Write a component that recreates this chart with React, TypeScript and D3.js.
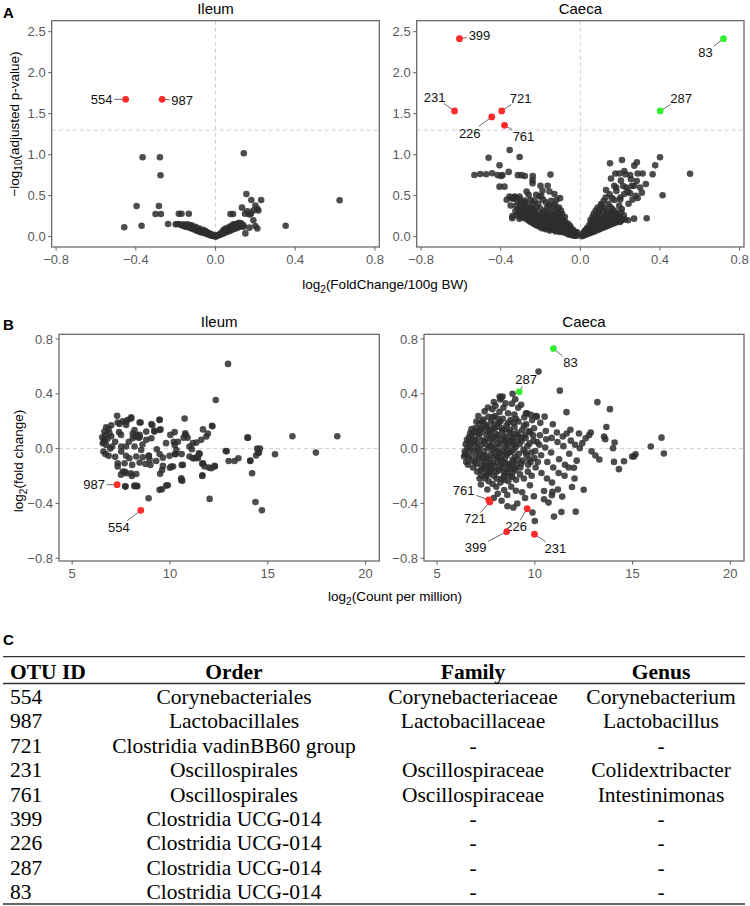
import React from 'react';
import * as d3 from 'd3';

type Pt = [number, number];
type Hit = { id: string; x: number; y: number; dir: 'up' | 'down' };

// ---- A: volcano, [log2 fold change per 100g BW, -log10 adjusted p] ----
const ileumVolcano: Pt[] = [
  [-0.366, 0.968], [-0.279, 0.968], [-0.276, 0.749], [0.142, 1.017], [-0.396, 0.374], [-0.284, 0.374],
  [-0.301, 0.277], [-0.274, 0.277], [-0.458, 0.115], [-0.371, 0.134], [-0.238, 0.155], [-0.19, 0.155],
  [-0.2, 0.15], [-0.184, 0.28], [-0.171, 0.28], [-0.134, 0.28], [0.155, 0.52], [0.18, 0.447], [0.229, 0.447],
  [0.133, 0.354], [0.16, 0.31], [0.148, 0.28], [0.17, 0.27], [0.2, 0.38], [0.21, 0.34], [0.19, 0.32],
  [0.088, 0.277], [0.075, 0.277], [0.352, 0.134], [0.623, 0.444], [0.2, 0.13], [0.17, 0.11], [0.21, 0.1],
  [0.15, 0.04], [0.178, 0.28], [0.215, 0.32], [0.19, 0.2],
  [-0.17, 0.14], [-0.16, 0.13], [-0.15, 0.14], [-0.15, 0.12], [-0.14, 0.12], [-0.13, 0.11], [-0.13, 0.13],
  [-0.12, 0.1], [-0.12, 0.14], [-0.11, 0.09], [-0.11, 0.11], [-0.1, 0.08], [-0.1, 0.1], [-0.09, 0.07],
  [-0.09, 0.09], [-0.08, 0.06], [-0.08, 0.08], [-0.07, 0.05], [-0.07, 0.07], [-0.06, 0.05], [-0.06, 0.06],
  [-0.05, 0.04], [-0.05, 0.05], [-0.04, 0.03], [-0.04, 0.05], [-0.03, 0.02], [-0.03, 0.04], [-0.02, 0.01],
  [-0.02, 0.03], [-0.01, 0.01], [0, 0.0], [0, 0.02], [0.01, 0.01], [0.02, 0.02], [0.02, 0.03], [0.03, 0.03],
  [0.03, 0.05], [0.04, 0.04], [0.04, 0.06], [0.05, 0.05], [0.05, 0.07], [0.06, 0.06], [0.06, 0.08],
  [0.06, 0.1], [0.07, 0.07], [0.07, 0.09], [0.07, 0.12], [0.08, 0.08], [0.08, 0.11], [0.08, 0.13],
  [0.09, 0.09], [0.09, 0.12], [0.09, 0.15], [0.1, 0.1], [0.1, 0.13], [0.11, 0.11], [0.11, 0.14],
  [0.12, 0.12], [0.12, 0.15], [0.13, 0.13], [0.13, 0.16], [0.14, 0.12], [0.14, 0.14],
  [-0.18, 0.15], [-0.16, 0.15], [-0.14, 0.15], [-0.12, 0.13], [-0.1, 0.12], [-0.08, 0.1], [-0.06, 0.08],
  [-0.05, 0.07], [0.04, 0.08], [0.05, 0.1], [0.11, 0.16], [0.12, 0.17], [0.1, 0.15],
];

const caecaVolcano: Pt[] = [
  // upper left scatter
  [-0.461, 0.963], [-0.355, 1.057], [-0.305, 0.972], [-0.406, 0.87], [-0.532, 0.752], [-0.503, 0.765],
  [-0.473, 0.761], [-0.443, 0.773], [-0.391, 0.75], [-0.36, 0.79], [-0.314, 0.75], [-0.296, 0.75],
  [-0.279, 0.74], [-0.239, 0.74], [-0.15, 0.757], [-0.406, 0.61], [-0.381, 0.61], [-0.24, 0.69],
  [-0.24, 0.65], [-0.164, 0.62], [-0.155, 0.55], [-0.356, 0.49], [-0.331, 0.48], [-0.306, 0.49],
  [-0.27, 0.55], [-0.26, 0.51], [-0.222, 0.51], [-0.206, 0.49], [-0.102, 0.47], [-0.341, 0.25],
  [-0.306, 0.22], [-0.286, 0.25], [-0.35, 0.38], [-0.3, 0.37], [-0.415, 0.75], [-0.398, 0.74],
  [-0.37, 0.45], [-0.345, 0.47], [-0.33, 0.49], [-0.2, 0.62], [-0.19, 0.56], [-0.13, 0.52], [-0.12, 0.45],
  [-0.25, 0.45], [-0.28, 0.44],
  // upper right scatter
  [0.149, 0.895], [0.209, 0.935], [0.284, 0.907], [0.271, 0.866], [0.4, 0.968], [0.376, 0.87], [0.551, 0.768],
  [0.413, 0.505], [0.333, 0.224], [0.154, 0.71], [0.176, 0.77], [0.196, 0.77], [0.221, 0.8], [0.226, 0.76],
  [0.25, 0.75], [0.288, 0.77], [0.313, 0.77], [0.363, 0.76], [0.204, 0.683], [0.254, 0.7], [0.329, 0.643],
  [0.309, 0.537], [0.288, 0.472], [0.25, 0.53], [0.129, 0.57], [0.16, 0.47], [0.2, 0.45], [0.23, 0.6],
  [0.22, 0.52], [0.27, 0.62], [0.3, 0.6], [0.18, 0.6], [0.24, 0.2], [0.27, 0.22], [0.2, 0.18], [0.17, 0.62],
  // left arm
  [-0.018, 0.012], [-0.023, 0.034], [-0.016, 0.052], [-0.031, 0.021], [-0.028, 0.063], [-0.034, 0.041],
  [-0.042, 0.024], [-0.037, 0.083], [-0.045, 0.052], [-0.052, 0.031], [-0.048, 0.104], [-0.055, 0.066],
  [-0.051, 0.128], [-0.063, 0.043], [-0.058, 0.117], [-0.066, 0.082], [-0.061, 0.158], [-0.072, 0.047],
  [-0.069, 0.098], [-0.075, 0.176], [-0.073, 0.138], [-0.083, 0.052], [-0.079, 0.121], [-0.086, 0.203],
  [-0.081, 0.087], [-0.078, 0.238], [-0.094, 0.063], [-0.088, 0.151], [-0.092, 0.224], [-0.096, 0.106],
  [-0.091, 0.276], [-0.103, 0.058], [-0.098, 0.124], [-0.106, 0.183], [-0.101, 0.257], [-0.097, 0.318],
  [-0.113, 0.072], [-0.108, 0.142], [-0.115, 0.205], [-0.111, 0.296], [-0.107, 0.355], [-0.124, 0.064],
  [-0.119, 0.103], [-0.126, 0.168], [-0.121, 0.243], [-0.117, 0.338], [-0.133, 0.083], [-0.128, 0.134],
  [-0.136, 0.197], [-0.131, 0.281], [-0.127, 0.396], [-0.143, 0.092], [-0.139, 0.152], [-0.146, 0.228],
  [-0.141, 0.317], [-0.137, 0.372], [-0.154, 0.074], [-0.149, 0.123], [-0.156, 0.184], [-0.151, 0.262],
  [-0.147, 0.437], [-0.163, 0.101], [-0.158, 0.162], [-0.166, 0.218], [-0.161, 0.302], [-0.157, 0.383],
  [-0.174, 0.092], [-0.169, 0.138], [-0.176, 0.204], [-0.171, 0.268], [-0.167, 0.352], [-0.173, 0.418],
  [-0.184, 0.113], [-0.179, 0.171], [-0.186, 0.237], [-0.181, 0.312], [-0.193, 0.104], [-0.188, 0.148],
  [-0.196, 0.222], [-0.191, 0.287], [-0.187, 0.452], [-0.204, 0.122], [-0.199, 0.193], [-0.206, 0.258],
  [-0.201, 0.343], [-0.197, 0.497], [-0.213, 0.134], [-0.209, 0.168], [-0.216, 0.232], [-0.211, 0.403],
  [-0.224, 0.141], [-0.219, 0.212], [-0.226, 0.277], [-0.221, 0.362], [-0.234, 0.158], [-0.229, 0.248],
  [-0.236, 0.321], [-0.231, 0.438], [-0.244, 0.172], [-0.239, 0.224], [-0.246, 0.298], [-0.241, 0.404],
  [-0.254, 0.186], [-0.249, 0.268], [-0.256, 0.347], [-0.263, 0.203], [-0.259, 0.242], [-0.266, 0.318],
  [-0.274, 0.218], [-0.269, 0.297], [-0.276, 0.423], [-0.284, 0.232], [-0.279, 0.284], [-0.286, 0.358],
  [-0.302, 0.243], [-0.297, 0.302], [-0.304, 0.458], [-0.318, 0.262], [-0.323, 0.378], [-0.342, 0.224],
  [-0.337, 0.462],
  [-0.041, 0.036], [-0.057, 0.047], [-0.067, 0.061], [-0.077, 0.068], [-0.087, 0.077], [-0.095, 0.088],
  [-0.105, 0.092], [-0.116, 0.098], [-0.125, 0.113], [-0.135, 0.118], [-0.145, 0.127], [-0.155, 0.141],
  [-0.165, 0.128], [-0.175, 0.153], [-0.185, 0.158], [-0.083, 0.142], [-0.094, 0.168], [-0.112, 0.178],
  [-0.122, 0.214], [-0.142, 0.262], [-0.152, 0.221], [-0.178, 0.246], [-0.194, 0.176], [-0.207, 0.154],
  [-0.062, 0.028], [-0.027, 0.012], [-0.047, 0.022], [-0.035, 0.013],
  [-0.215, 0.188], [-0.228, 0.196], [-0.248, 0.212], [-0.258, 0.228], [-0.272, 0.252], [-0.282, 0.262],
  [-0.295, 0.272], [-0.31, 0.288], [-0.232, 0.288], [-0.252, 0.302], [-0.268, 0.342], [-0.288, 0.322],
  [-0.312, 0.338], [-0.326, 0.312], [-0.203, 0.228], [-0.187, 0.208], [-0.168, 0.186], [-0.148, 0.168],
  [-0.132, 0.162], [-0.118, 0.148], [-0.102, 0.148], [-0.088, 0.118], [-0.071, 0.112], [-0.158, 0.198],
  [-0.178, 0.218], [-0.198, 0.242], [-0.212, 0.268], [-0.226, 0.318], [-0.242, 0.348], [-0.262, 0.378],
  [-0.282, 0.398], [-0.298, 0.412], [-0.316, 0.432],
  // right arm
  [0.008, 0.006], [0.012, 0.031], [0.021, 0.017], [0.018, 0.052], [0.024, 0.078], [0.031, 0.028],
  [0.027, 0.068], [0.034, 0.106], [0.042, 0.037], [0.038, 0.092], [0.044, 0.138], [0.041, 0.061],
  [0.052, 0.048], [0.048, 0.103], [0.054, 0.168], [0.051, 0.204], [0.063, 0.057], [0.058, 0.122],
  [0.065, 0.187], [0.061, 0.238], [0.072, 0.066], [0.068, 0.112], [0.074, 0.158], [0.071, 0.224],
  [0.067, 0.278], [0.083, 0.078], [0.078, 0.133], [0.085, 0.192], [0.081, 0.256], [0.077, 0.318],
  [0.093, 0.088], [0.088, 0.148], [0.095, 0.212], [0.091, 0.293], [0.087, 0.356], [0.102, 0.098],
  [0.098, 0.138], [0.105, 0.183], [0.101, 0.243], [0.097, 0.332], [0.104, 0.398], [0.113, 0.108],
  [0.108, 0.163], [0.115, 0.221], [0.111, 0.302], [0.107, 0.378], [0.123, 0.118], [0.118, 0.172],
  [0.125, 0.258], [0.121, 0.348], [0.117, 0.437], [0.133, 0.128], [0.128, 0.188], [0.135, 0.243],
  [0.131, 0.318], [0.127, 0.478], [0.143, 0.138], [0.138, 0.198], [0.145, 0.282], [0.141, 0.402],
  [0.153, 0.148], [0.148, 0.218], [0.155, 0.298], [0.151, 0.362], [0.147, 0.518], [0.163, 0.157],
  [0.158, 0.208], [0.165, 0.262], [0.161, 0.338], [0.173, 0.168], [0.168, 0.238], [0.175, 0.308],
  [0.171, 0.448], [0.183, 0.178], [0.178, 0.222], [0.185, 0.278], [0.181, 0.558], [0.193, 0.196],
  [0.188, 0.258], [0.195, 0.378], [0.203, 0.197], [0.198, 0.238], [0.205, 0.298], [0.201, 0.478],
  [0.213, 0.206], [0.208, 0.338], [0.215, 0.618], [0.223, 0.212], [0.218, 0.262], [0.242, 0.402],
  [0.238, 0.552], [0.262, 0.452], [0.258, 0.618], [0.278, 0.498], [0.283, 0.678],
  [0.037, 0.048], [0.057, 0.082], [0.066, 0.093], [0.076, 0.098], [0.086, 0.113], [0.096, 0.122],
  [0.106, 0.128], [0.116, 0.142], [0.126, 0.153], [0.136, 0.162], [0.146, 0.172], [0.156, 0.183],
  [0.166, 0.192], [0.176, 0.201], [0.082, 0.172], [0.092, 0.182], [0.112, 0.203], [0.122, 0.222],
  [0.132, 0.268], [0.152, 0.248], [0.172, 0.278], [0.187, 0.232], [0.016, 0.018], [0.026, 0.041],
  [0.046, 0.072],
];

// ---- B: MA plot, [log2 count per million, log2 fold change] ----
const ileumMA: Pt[] = [
  [12.97, 0.618], [12.34, 0.355], [16.26, 0.09], [18.55, 0.09], [17.46, -0.029], [15.37, -0.041],
  [14.5, -0.03], [14.6, 0.0], [14.4, -0.05], [13.99, 0.08], [14.1, -0.09], [14.2, -0.18], [14.37, -0.39],
  [14.7, -0.45], [12.03, -0.367], [12.17, 0.163], [12.9, -0.02], [13.0, -0.09], [13.3, -0.09], [13.5, -0.07],
  [8.91, -0.362], [9.59, -0.296], [9.89, -0.267], [10.58, -0.23], [8.33, -0.275], [8.19, -0.275],
  [7.71, -0.275], [10.02, 0.1], [10.75, 0.219], [10.24, 0.12], [10.8, 0.1], [10.7, 0.08], [11.17, 0.04],
  [11.0, 0.015], [11.35, 0.044], [11.6, 0.064], [11.69, 0.14], [11.86, 0.088], [11.94, 0.11], [12.15, 0.166],
  [10.6, -0.04], [10.25, -0.04], [10.2, 0.05], [11.0, -0.058], [11.17, -0.07], [11.48, -0.034],
  [11.65, -0.11], [11.65, -0.2], [11.35, -0.063], [11.77, -0.13], [12.29, -0.126], [12.0, -0.139],
  [10.6, -0.12], [10.16, -0.13], [10.3, -0.04],
  [6.54, 0.083], [6.65, 0.064], [6.57, 0.039], [6.74, 0.027], [6.6, -0.022], [6.87, -0.053], [6.74, 0.156],
  [6.87, 0.144], [6.65, 0.124], [6.91, 0.112], [6.7, 0.1], [6.8, 0.07], [6.62, 0.05], [6.95, 0.0],
  [6.7, -0.04], [7.0, 0.09], [7.3, 0.239], [7.33, 0.19], [7.59, 0.2], [7.85, 0.21], [8.02, 0.22],
  [7.76, 0.173], [8.19, 0.136], [8.31, 0.1], [8.1, 0.076], [8.45, 0.083], [8.79, 0.064], [9.05, 0.076],
  [9.21, 0.124], [9.47, 0.136], [9.05, 0.18], [9.47, 0.21], [8.5, 0.19], [8.79, 0.124], [7.05, 0.015],
  [7.51, 0.015], [7.76, 0.015], [8.19, 0.015], [8.53, -0.01], [9.33, -0.005], [7.51, -0.022],
  [7.76, -0.053], [7.93, -0.07], [8.28, -0.058], [8.61, -0.063], [8.92, -0.053], [9.47, -0.039],
  [9.64, -0.066], [9.98, -0.053], [10.24, 0.027], [10.33, -0.01], [7.42, 0.18], [7.76, 0.197],
  [8.02, 0.229], [8.45, 0.19], [9.1, 0.17], [9.2, 0.13], [8.1, 0.11], [8.45, 0.1], [8.2, 0.09], [8.4, 0.08],
  [7.7, -0.17], [7.5, -0.19], [8.0, -0.18], [8.05, -0.2], [12.12, -0.143], [12.29, -0.131],
  [11.66, -0.194], [11.69, -0.107], [11.43, -0.07], [11.52, -0.039], [11.26, -0.07], [11.12, -0.005],
  [10.41, 0.05], [10.78, 0.112], [10.9, 0.08], [13.96, 0.08], [12.85, -0.017], [14.11, -0.087],
  [14.45, 0.0], [14.55, -0.03], [10.58, -0.216], [10.66, -0.119], [10.07, -0.13], [10.0, -0.14],
  [9.6, -0.156], [9.5, -0.184], [9.64, -0.126], [9.47, 0.21], [9.52, 0.14], [8.92, -0.053],
  [8.96, -0.082], [8.75, -0.112], [8.45, -0.102], [8.07, -0.119], [7.68, -0.107], [7.33, -0.107],
  [7.33, -0.131], [7.59, -0.168], [7.76, -0.18], [8.28, -0.185], [8.19, -0.27], [8.31, -0.272],
  [7.73, -0.277], [9.47, -0.301], [9.81, -0.27], [10.63, -0.234], [9.0, -0.12], [9.3, -0.09],
  [7.2, 0.05], [7.4, 0.12], [7.9, 0.05], [8.6, 0.03], [9.8, 0.04], [7.2, -0.06], [7.0, 0.17], [7.5, 0.1],
];

const caecaMA: Pt[] = [
  // outer scatter
  [10.19, 0.562], [11.28, 0.423], [8.86, 0.4], [8.27, 0.37], [8.35, 0.38], [13.2, 0.339], [13.84, 0.288],
  [11.62, 0.266], [13.66, 0.158], [12.86, 0.117], [12.77, 0.098], [13.54, 0.088], [13.6, 0.069],
  [14.08, 0.044], [14.0, 0.003], [14.05, -0.097], [14.3, -0.15], [14.56, -0.092], [14.98, -0.058],
  [15.15, -0.041], [15.07, -0.058], [15.93, 0.015], [16.48, 0.08], [16.6, -0.036], [12.5, -0.3],
  [12.09, -0.46], [11.36, -0.462], [10.98, -0.496], [10.0, -0.528], [9.88, -0.467], [10.7, -0.394],
  [10.47, -0.37], [10.87, -0.34], [10.9, -0.316], [10.47, -0.309], [11.63, 0.11], [12.26, 0.11],
  [12.43, 0.04], [12.6, 0.076], [12.3, 0.003], [10.5, 0.233], [10.1, 0.233], [9.8, 0.246], [9.6, 0.258],
  [8.2, 0.38], [8.5, 0.33], [9.0, 0.36], [9.3, 0.32], [7.6, 0.3], [7.9, 0.34], [12.9, -0.02], [13.1, -0.05],
  [13.3, -0.08], [12.0, -0.14], [11.9, -0.28], [11.4, -0.35], [9.1, -0.4], [8.9, -0.43], [8.3, -0.38],
  [8.6, -0.42], [9.5, -0.36], [7.9, -0.36], [8.1, -0.33],
  // main cloud
  [6.42, -0.02], [6.46, 0.032], [6.38, -0.058], [6.53, 0.064], [6.49, -0.098], [6.55, 0.004], [6.44, -0.041],
  [6.63, 0.083], [6.58, -0.118], [6.66, 0.021], [6.61, -0.072], [6.69, 0.112],
  [6.77, 0.097], [6.84, -0.138], [6.73, 0.043], [6.88, -0.018], [6.81, -0.088], [6.76, 0.142],
  [6.97, 0.152], [7.05, -0.168], [6.93, 0.062], [7.08, 0.004], [6.99, -0.058], [7.03, -0.112], [7.01, 0.198],
  [7.16, 0.183], [7.26, -0.196], [7.13, 0.088], [7.22, 0.023], [7.18, -0.042], [7.29, -0.128], [7.11, 0.238],
  [7.24, -0.262], [7.37, 0.212], [7.45, -0.218], [7.33, 0.118], [7.42, 0.052], [7.38, -0.018], [7.47, -0.092],
  [7.35, -0.148], [7.43, 0.272], [7.56, 0.163], [7.64, -0.238], [7.53, 0.078], [7.62, 0.003], [7.58, -0.068],
  [7.66, -0.122], [7.55, -0.182], [7.63, 0.232], [7.57, -0.298], [7.76, 0.198], [7.84, -0.258], [7.73, 0.108],
  [7.82, 0.038], [7.78, -0.038], [7.86, -0.102], [7.75, -0.168], [7.83, 0.288], [7.79, 0.143],
  [7.96, 0.238], [8.04, -0.218], [7.93, 0.148], [8.02, 0.072], [7.98, 0.002], [8.06, -0.062], [7.95, -0.128],
  [8.03, -0.278], [7.99, 0.312], [8.16, 0.188], [8.24, -0.248], [8.13, 0.098], [8.22, 0.028], [8.18, -0.032],
  [8.26, -0.088], [8.15, -0.158], [8.23, 0.358], [8.19, 0.268], [8.36, 0.218], [8.44, -0.198], [8.33, 0.128],
  [8.42, 0.058], [8.38, -0.012], [8.46, -0.072], [8.35, -0.138], [8.43, -0.302], [8.39, 0.298],
  [8.56, 0.168], [8.64, -0.238], [8.53, 0.088], [8.62, 0.018], [8.58, -0.048], [8.66, -0.112], [8.55, -0.178],
  [8.63, 0.258], [8.59, -0.338], [8.76, 0.208], [8.84, -0.208], [8.73, 0.118], [8.82, 0.048], [8.78, -0.022],
  [8.86, -0.082], [8.75, -0.148], [8.83, 0.328], [8.79, -0.278], [8.96, 0.158], [9.04, -0.228], [8.93, 0.078],
  [9.02, 0.012], [8.98, -0.058], [9.06, -0.118], [8.95, 0.248], [9.03, -0.308], [9.16, 0.198], [9.24, -0.188],
  [9.13, 0.098], [9.22, 0.032], [9.18, -0.038], [9.26, -0.138], [9.15, 0.298], [9.36, 0.138], [9.44, -0.218],
  [9.33, 0.058], [9.42, -0.008], [9.38, -0.088], [9.46, 0.228], [9.35, -0.318], [9.56, 0.178], [9.64, -0.168],
  [9.53, 0.078], [9.62, 0.018], [9.58, -0.048], [9.66, -0.118], [9.55, 0.258], [9.76, 0.118], [9.84, -0.198],
  [9.73, 0.038], [9.82, -0.028], [9.78, -0.098], [9.86, 0.208], [9.75, -0.268], [9.96, 0.148], [10.04, -0.138],
  [9.93, 0.058], [10.02, -0.018], [9.98, -0.068], [10.06, 0.238], [9.95, -0.348], [10.26, 0.098],
  [10.34, -0.178], [10.23, 0.028], [10.32, -0.048], [10.28, 0.188], [10.56, 0.128], [10.64, -0.098],
  [10.53, 0.008], [10.62, -0.218], [10.58, 0.068], [10.86, 0.078], [10.94, -0.138], [10.83, -0.028],
  [10.92, 0.178], [10.88, -0.248], [11.16, 0.048], [11.24, -0.078], [11.13, 0.118], [11.22, -0.178],
  [11.18, -0.298], [11.46, 0.018], [11.54, -0.118], [11.43, 0.088], [11.52, -0.198], [11.76, -0.038],
  [11.84, 0.058], [11.73, -0.138], [11.82, 0.138], [12.06, 0.028], [12.14, -0.088], [12.03, -0.218],
  // dense core
  [6.91, 0.028], [7.09, -0.018], [7.31, 0.058], [7.49, -0.048], [7.71, 0.018], [7.89, -0.008], [8.11, 0.038],
  [8.29, -0.052], [8.51, 0.012], [8.69, -0.028], [8.91, 0.032], [7.11, 0.108], [7.51, 0.158], [7.91, 0.178],
  [8.31, 0.148], [8.71, 0.138], [7.31, -0.088], [7.69, -0.118], [8.09, -0.098], [8.49, -0.108], [8.89, -0.098],
  [7.49, -0.198], [8.31, -0.218], [9.11, 0.118], [7.21, 0.138], [7.61, 0.118], [8.01, 0.108], [8.41, 0.088],
  [8.81, 0.078], [7.41, -0.128], [7.81, -0.148], [8.21, -0.128], [8.61, -0.148], [9.01, -0.158], [7.71, 0.068],
  [8.11, -0.068], [8.51, 0.048], [8.91, -0.008], [7.01, 0.048], [6.71, -0.008], [6.61, 0.048], [6.81, 0.068],
  [7.91, -0.198], [8.71, -0.198], [7.31, 0.198], [8.11, 0.218], [8.91, 0.188], [7.61, -0.148], [8.41, -0.168],
  [7.14, -0.072], [7.27, 0.148], [7.36, -0.058], [7.48, 0.032], [7.52, -0.138], [7.68, 0.128], [7.72, -0.082],
  [7.87, 0.082], [7.92, -0.052], [8.07, 0.158], [8.13, -0.018], [8.27, 0.068], [8.33, -0.098], [8.47, 0.138],
  [8.52, -0.032], [8.67, 0.058], [8.72, -0.122], [8.87, 0.108], [8.94, -0.142], [9.07, 0.048], [9.12, -0.078],
  [9.27, 0.078], [9.31, -0.108], [9.47, 0.098], [9.52, -0.028], [7.04, 0.128], [7.44, 0.178], [7.84, 0.228],
  [8.24, 0.198], [8.64, 0.188], [9.04, 0.218], [7.24, -0.158], [7.64, -0.188], [8.04, -0.168], [8.44, -0.228],
  [8.84, -0.178], [6.86, 0.118], [6.67, -0.048], [6.94, -0.098], [7.17, -0.218], [9.44, 0.168], [9.68, 0.128],
  [9.71, -0.078], [9.91, 0.098], [10.12, 0.048], [10.15, -0.098],
];

// highlighted OTUs (red = down, green = up)
const ileumVolcanoHits: Hit[] = [
  { id: '554', x: -0.451, y: 1.675, dir: 'down' },
  { id: '987', x: -0.268, y: 1.675, dir: 'down' },
];
const caecaVolcanoHits: Hit[] = [
  { id: '399', x: -0.607, y: 2.415, dir: 'down' },
  { id: '231', x: -0.632, y: 1.533, dir: 'down' },
  { id: '721', x: -0.395, y: 1.533, dir: 'down' },
  { id: '226', x: -0.445, y: 1.46, dir: 'down' },
  { id: '761', x: -0.381, y: 1.358, dir: 'down' },
  { id: '287', x: 0.401, y: 1.533, dir: 'up' },
  { id: '83', x: 0.719, y: 2.415, dir: 'up' },
];
const ileumMAHits: Hit[] = [
  { id: '987', x: 7.3, y: -0.263, dir: 'down' },
  { id: '554', x: 8.51, y: -0.45, dir: 'down' },
];
const caecaMAHits: Hit[] = [
  { id: '83', x: 10.95, y: 0.73, dir: 'up' },
  { id: '287', x: 9.2, y: 0.414, dir: 'up' },
  { id: '761', x: 7.64, y: -0.374, dir: 'down' },
  { id: '721', x: 7.7, y: -0.389, dir: 'down' },
  { id: '226', x: 9.61, y: -0.438, dir: 'down' },
  { id: '399', x: 8.56, y: -0.606, dir: 'down' },
  { id: '231', x: 9.98, y: -0.625, dir: 'down' },
];

const volcanoXTicks = [-0.8, -0.4, 0.0, 0.4, 0.8];
const volcanoYTicks = [0.0, 0.5, 1.0, 1.5, 2.0, 2.5];
const maXTicks = [5, 10, 15, 20];
const maYTicks = [-0.8, -0.4, 0.0, 0.4, 0.8];

// ---- C: taxonomy table ----
const tableHeader = ['OTU ID', 'Order', 'Family', 'Genus'];
const otuIds = ['554', '987', '721', '231', '761', '399', '226', '287', '83'];
const orders = [
  'Corynebacteriales', 'Lactobacillales', 'Clostridia vadinBB60 group', 'Oscillospirales',
  'Oscillospirales', 'Clostridia UCG-014', 'Clostridia UCG-014', 'Clostridia UCG-014', 'Clostridia UCG-014',
];
const families = ['Corynebacteriaceae', 'Lactobacillaceae', '-', 'Oscillospiraceae', 'Oscillospiraceae', '-', '-', '-', '-'];
const genera = ['Corynebacterium', 'Lactobacillus', '-', 'Colidextribacter', 'Intestinimonas', '-', '-', '-', '-'];

const SANS = '"Liberation Sans", Arial, sans-serif';
const SERIF = '"Liberation Serif", "Times New Roman", serif';
const TICK_GREY = '#5a5a5a';

type Box = { left: number; right: number; top: number; bottom: number };

interface PanelProps {
  box: Box;
  title: string;
  xDomain: [number, number];
  yDomain: [number, number];
  xTicks: number[];
  yTicks: number[];
  fmt: (v: number) => string;
  points: Pt[];
  hits: Hit[];
  nudges: Record<string, [number, number]>;
  vline?: number;
  hline?: number;
}

function Panel({ box, title, xDomain, yDomain, xTicks, yTicks, fmt, points, hits, nudges, vline, hline }: PanelProps) {
  const x = d3.scaleLinear().domain(xDomain).range([box.left, box.right]);
  const y = d3.scaleLinear().domain(yDomain).range([box.bottom, box.top]);
  const yFmt = d3.format('.1f');
  const cx = (box.left + box.right) / 2;

  return (
    <g fontFamily={SANS}>
      <text x={cx} y={box.top - 7} textAnchor="middle" fontSize={15} fill="#000">{title}</text>
      {vline !== undefined && (
        <line x1={x(vline)} x2={x(vline)} y1={box.top} y2={box.bottom} stroke="#cfcfcf" strokeDasharray="4,3" />
      )}
      {hline !== undefined && (
        <line x1={box.left} x2={box.right} y1={y(hline)} y2={y(hline)} stroke="#cfcfcf" strokeDasharray="4,3" />
      )}
      {points.map((d, i) => (
        <circle key={i} cx={x(d[0])} cy={y(d[1])} r={3.3} fill="#2e2e2e" fillOpacity={0.85} />
      ))}
      {hits.map((h) => {
        const px = x(h.x);
        const py = y(h.y);
        const [dx, dy] = nudges[h.id];
        const lx = px + dx;
        const ly = py + dy;
        // clip the leader line at the label's box
        const hw = h.id.length * 3.7 + 1.5;
        const hh = 6.5;
        const s = Math.min(dx !== 0 ? hw / Math.abs(dx) : Infinity, dy !== 0 ? hh / Math.abs(dy) : Infinity);
        const ex = lx - dx * s;
        const ey = ly - dy * s;
        return (
          <g key={h.id}>
            {s < 1 && <line x1={px} y1={py} x2={ex} y2={ey} stroke="#444" strokeWidth={0.8} />}
            <circle cx={px} cy={py} r={3.4} fill={h.dir === 'up' ? '#33ee33' : '#ff2a2a'} />
            <text x={lx} y={ly} dy="0.35em" textAnchor="middle" fontSize={13} fill="#111">{h.id}</text>
          </g>
        );
      })}
      <rect x={box.left} y={box.top} width={box.right - box.left} height={box.bottom - box.top}
        fill="none" stroke="#5f5f5f" strokeWidth={1.2} />
      {xTicks.map((t) => (
        <g key={`x${t}`}>
          <line x1={x(t)} x2={x(t)} y1={box.bottom} y2={box.bottom + 3.5} stroke="#5f5f5f" />
          <text x={x(t)} y={box.bottom + 16.5} textAnchor="middle" fontSize={13} fill={TICK_GREY}>{fmt(t)}</text>
        </g>
      ))}
      {yTicks.map((t) => (
        <g key={`y${t}`}>
          <line x1={box.left - 3.5} x2={box.left} y1={y(t)} y2={y(t)} stroke="#5f5f5f" />
          <text x={box.left - 6} y={y(t)} dy="0.35em" textAnchor="end" fontSize={13} fill={TICK_GREY}>{yFmt(t)}</text>
        </g>
      ))}
    </g>
  );
}

const volcanoNudges: Record<string, [number, number]> = {
  '554': [-24, 0], '987': [20, 1], '399': [20, -3], '83': [-18, 14], '231': [-20, -14],
  '721': [19, -13], '226': [-22, 16], '761': [19, 11], '287': [21, -13],
};
const ileumMANudges: Record<string, [number, number]> = { '987': [-23, 0], '554': [-22, 17] };
const caecaMANudges: Record<string, [number, number]> = {
  '83': [17, 14], '287': [7, -12], '761': [-25, -9], '721': [-15, 17], '226': [-11, 18], '399': [-31, 16],
  '231': [21, 14],
};

const App = () => {
  const volX: [number, number] = [-0.822, 0.822];
  const volY: [number, number] = [-0.126, 2.634];
  const maX: [number, number] = [4.33, 20.7];
  const maY: [number, number] = [-0.82, 0.834];
  const fmtFc = d3.format('.1f');
  const fmtInt = d3.format('d');

  const colCentre = [10, 234, 473, 661];
  const rowY = (i: number) => 704 + i * 24.4;
  const rows = otuIds.map((id, i) => [id, orders[i], families[i], genera[i]]);

  return (
    <svg width={750} height={906} style={{ position: 'absolute', left: 0, top: 0, background: '#fff' }}>
      <rect width={750} height={906} fill="#fff" />

      {/* A: volcano plots */}
      <text x={3} y={18} fontFamily={SANS} fontWeight="bold" fontSize={15}>A</text>
      <Panel box={{ left: 51.7, right: 379.3, top: 20.7, bottom: 247 }} title="Ileum" xDomain={volX} yDomain={volY}
        xTicks={volcanoXTicks} yTicks={volcanoYTicks} fmt={fmtFc} points={ileumVolcano} hits={ileumVolcanoHits}
        nudges={volcanoNudges} vline={0} hline={1.3} />
      <Panel box={{ left: 416.7, right: 744, top: 20.7, bottom: 247 }} title="Caeca" xDomain={volX} yDomain={volY}
        xTicks={volcanoXTicks} yTicks={volcanoYTicks} fmt={fmtFc} points={caecaVolcano} hits={caecaVolcanoHits}
        nudges={volcanoNudges} vline={0} hline={1.3} />
      <text x={385} y={289} textAnchor="middle" fontFamily={SANS} fontSize={13.5}>
        log<tspan dy={3.5} fontSize={10}>2</tspan><tspan dy={-3.5}>(FoldChange/100g BW)</tspan>
      </text>
      <text transform="translate(18.5,124) rotate(-90)" textAnchor="middle" fontFamily={SANS} fontSize={13.5}>
        −log<tspan dy={3.5} fontSize={10}>10</tspan><tspan dy={-3.5}>(adjusted p-value)</tspan>
      </text>

      {/* B: MA plots */}
      <text x={3} y={330} fontFamily={SANS} fontWeight="bold" fontSize={15}>B</text>
      <Panel box={{ left: 59, right: 379.3, top: 334.3, bottom: 561 }} title="Ileum" xDomain={maX} yDomain={maY}
        xTicks={maXTicks} yTicks={maYTicks} fmt={fmtInt} points={ileumMA} hits={ileumMAHits}
        nudges={ileumMANudges} hline={0} />
      <Panel box={{ left: 424, right: 744, top: 334.3, bottom: 561 }} title="Caeca" xDomain={maX} yDomain={maY}
        xTicks={maXTicks} yTicks={maYTicks} fmt={fmtInt} points={caecaMA} hits={caecaMAHits}
        nudges={caecaMANudges} hline={0} />
      <text x={395} y={601} textAnchor="middle" fontFamily={SANS} fontSize={13.5}>
        log<tspan dy={3.5} fontSize={10}>2</tspan><tspan dy={-3.5}>(Count per million)</tspan>
      </text>
      <text transform="translate(23,461) rotate(-90)" textAnchor="middle" fontFamily={SANS} fontSize={13.5}>
        log<tspan dy={3.5} fontSize={10}>2</tspan><tspan dy={-3.5}>(fold change)</tspan>
      </text>

      {/* C: taxonomy table */}
      <text x={3} y={645} fontFamily={SANS} fontWeight="bold" fontSize={15}>C</text>
      <line x1={3} x2={745} y1={656.7} y2={656.7} stroke="#333" strokeWidth={1.3} />
      <line x1={3} x2={745} y1={683.5} y2={683.5} stroke="#333" strokeWidth={1.3} />
      <line x1={3} x2={745} y1={904} y2={904} stroke="#333" strokeWidth={1.3} />
      <g fontFamily={SERIF} fontSize={21.5} fill="#000">
        {tableHeader.map((h, j) => (
          <text key={h} x={colCentre[j]} y={678.5} textAnchor={j === 0 ? 'start' : 'middle'} fontWeight="bold">{h}</text>
        ))}
        {rows.map((r, i) => r.map((c, j) => (
          <text key={`${i}-${j}`} x={colCentre[j]} y={rowY(i)} textAnchor={j === 0 ? 'start' : 'middle'}>{c}</text>
        )))}
      </g>
    </svg>
  );
};

export default App;
